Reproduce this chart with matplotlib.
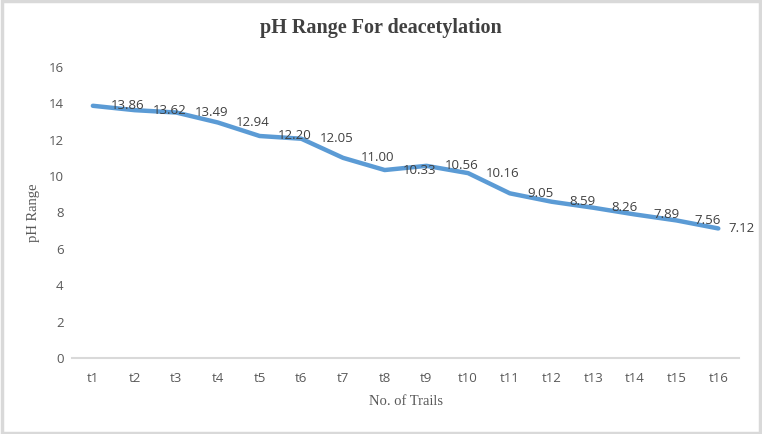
import numpy as np
import matplotlib.pyplot as plt
from matplotlib.patches import Rectangle

# Trials and measured pH values
trials = ["t%d" % i for i in range(1, 17)]
ph_values = [13.86, 13.62, 13.49, 12.94, 12.20, 12.05, 11.00, 10.33,
             10.56, 10.16, 9.05, 8.59, 8.26, 7.89, 7.56, 7.12]
y_ticks = [0, 2, 4, 6, 8, 10, 12, 14, 16]

fig = plt.figure(figsize=(7.62, 4.34), dpi=100)
ax = fig.add_axes([0.0945, 0.175, 0.8755, 0.671])

x = np.arange(len(trials))
ax.plot(x, ph_values, color="#5B9BD5", linewidth=3.2, solid_capstyle="round")

# Data labels to the right of each point (last one pulled in to fit)
for xi, v in zip(x, ph_values):
    dx = 13 if xi < len(trials) - 1 else 7
    ax.annotate("%.2f" % v, (xi, v), xytext=(dx, 0), textcoords="offset points",
                ha="left", va="center", fontsize=9.5, color="#404040",
                family="Open Sans")

ax.set_xlim(-0.5, len(trials) - 0.5)
ax.set_ylim(0, 16)
ax.set_xticks(x)
ax.set_xticklabels(trials)
ax.set_yticks(y_ticks)
ax.tick_params(axis="x", length=0, colors="#595959", labelsize=9.5, pad=10)
ax.tick_params(axis="y", length=0, colors="#595959", labelsize=9.5, pad=6)
for lbl in ax.get_xticklabels() + ax.get_yticklabels():
    lbl.set_family("Open Sans")

for s in ["top", "right", "left"]:
    ax.spines[s].set_visible(False)
ax.spines["bottom"].set_color("#D9D9D9")
ax.spines["bottom"].set_linewidth(1.5)

ax.set_xlabel("No. of Trails", family="Liberation Serif", fontsize=10.5,
              color="#595959", labelpad=7)
ax.set_ylabel("pH Range", family="Liberation Serif", fontsize=10.5,
              color="#595959", labelpad=6)

fig.text(0.5, 0.935, "pH Range For deacetylation", ha="center", va="center",
         family="Liberation Serif", fontweight="bold", fontsize=14.5,
         color="#404040")

# light gray border around the chart
fig.patches.append(Rectangle((0.002, 0.003), 0.996, 0.994, transform=fig.transFigure,
                             fill=False, edgecolor="#D9D9D9", linewidth=2.5))

fig.savefig("out.png", dpi=100)
